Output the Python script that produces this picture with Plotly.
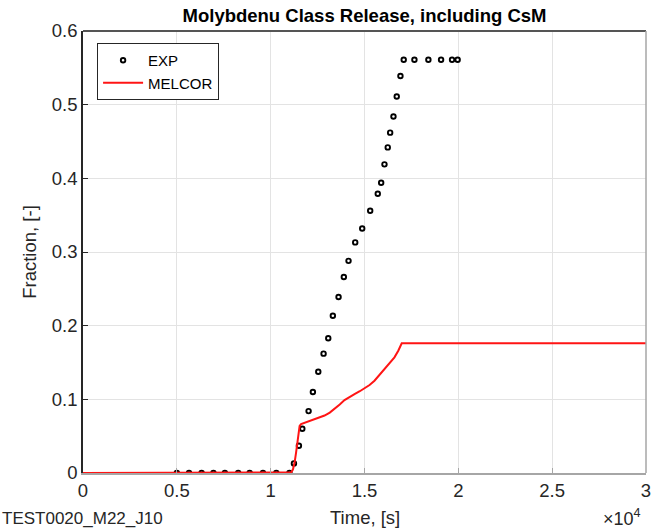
import plotly.graph_objects as go

# EXP data (time s, fraction)
exp_t = [5000, 5650, 6320, 6950, 7560, 8270, 8880, 9590, 10300, 11000,
         11240, 11505, 11686, 12021, 12250, 12537, 12819, 13069, 13314, 13617,
         13899, 14149, 14505, 14878, 15303, 15707, 15888, 16064, 16239, 16367,
         16543, 16718, 16915, 17090, 17660, 18404, 19080, 19665, 19963]
exp_y = [0, 0, 0, 0, 0, 0, 0, 0, 0, 0,
         0.013, 0.037, 0.060, 0.084, 0.110, 0.1375, 0.162, 0.183, 0.2135, 0.239,
         0.266, 0.288, 0.313, 0.332, 0.356, 0.379, 0.394, 0.419, 0.442, 0.462,
         0.484, 0.511, 0.539, 0.561, 0.561, 0.561, 0.561, 0.561, 0.561]

# MELCOR data
mel_t = [0, 5000, 10000, 10800, 11000, 11100, 11190, 11277, 11350, 11420, 11490, 11543,
         11620, 11720, 11900, 12165, 12500, 12872, 13150, 13404, 13680, 13936, 14200,
         14468, 14750, 15000, 15270, 15532, 15800, 16064, 16330, 16596, 16800, 16984,
         20000, 25000, 30000]
mel_y = [0, 0, 0, 0, 0.0003, 0.001, 0.005, 0.0145, 0.027, 0.0417, 0.056, 0.064,
         0.0665, 0.0675, 0.069, 0.071, 0.0745, 0.078, 0.082, 0.0869, 0.093, 0.099, 0.1035,
         0.107, 0.111, 0.115, 0.1195, 0.1253, 0.133, 0.141, 0.149, 0.157, 0.166, 0.176,
         0.176, 0.176, 0.176]

x_tickvals = [0, 5000, 10000, 15000, 20000, 25000, 30000]
x_ticktext = ["0", "0.5", "1", "1.5", "2", "2.5", "3"]
y_tickvals = [0, 0.1, 0.2, 0.3, 0.4, 0.5, 0.6]
y_ticktext = ["0", "0.1", "0.2", "0.3", "0.4", "0.5", "0.6"]

FONT = "Liberation Sans, Arial, Helvetica, sans-serif"
TXT = "#262626"

fig = go.Figure()
fig.add_trace(go.Scatter(
    x=exp_t, y=exp_y, mode="markers", name="EXP",
    marker=dict(symbol="circle-open", size=4.5, color="black", line=dict(width=1.9, color="black")),
))
fig.add_trace(go.Scatter(
    x=mel_t, y=mel_y, mode="lines", name="MELCOR",
    line=dict(color="#ff1414", width=2),
))

fig.update_layout(
    width=666, height=531,
    margin=dict(l=83, r=20, t=31, b=58),
    paper_bgcolor="white", plot_bgcolor="white",
    font=dict(family=FONT, color=TXT, size=15),
    title=dict(text="<b>Molybdenu Class Release, including CsM</b>",
               x=(83 + 646) / 2 / 666, xanchor="center", y=1 - 16 / 531, yanchor="middle",
               font=dict(size=18.5, color="black", family=FONT)),
    showlegend=True,
    legend=dict(x=0.025, y=0.973, xanchor="left", yanchor="top",
                bgcolor="white", bordercolor=TXT, borderwidth=1,
                font=dict(size=15, color="black", family=FONT),
                tracegroupgap=0, itemwidth=40),
)

fig.update_xaxes(
    range=[0, 30000], tickvals=x_tickvals, ticktext=x_ticktext,
    showgrid=True, gridcolor="#e3e3e3", gridwidth=1,
    zeroline=False, showline=True, linecolor="#a6a6a6", linewidth=1.5, mirror=False,
    ticks="inside", ticklen=5, tickcolor="#a6a6a6",
    tickfont=dict(size=18.5, color=TXT), automargin=False,
)
fig.update_yaxes(
    range=[0, 0.6], tickvals=y_tickvals, ticktext=y_ticktext,
    showgrid=True, gridcolor="#e3e3e3", gridwidth=1,
    zeroline=False, showline=True, linecolor=TXT, linewidth=1.5, mirror=False,
    ticks="inside", ticklen=5, tickcolor=TXT,
    tickfont=dict(size=18.5, color=TXT),
    title=dict(text="Fraction, [-]", font=dict(size=18.5, color=TXT), standoff=10),
)

# top (dark) and right (light) frame lines
fig.add_shape(type="line", xref="paper", yref="paper", x0=0, x1=1, y0=1, y1=1,
              line=dict(color="#555555", width=2))
fig.add_shape(type="line", xref="paper", yref="paper", x0=1, x1=1, y0=0, y1=1,
              line=dict(color="#a6a6a6", width=1.5))

fig.add_annotation(text="Time, [s]", xref="paper", yref="paper",
                   x=0.5, y=(473 - 517) / 442, xanchor="center", yanchor="middle", showarrow=False,
                   font=dict(size=18.5, color=TXT, family=FONT))
fig.add_annotation(text="×10<sup>4</sup>", xref="paper", yref="paper",
                   x=0.995, y=(473 - 517) / 442, xanchor="right", yanchor="middle", showarrow=False,
                   font=dict(size=18, color=TXT, family=FONT))
fig.add_annotation(text="TEST0020_M22_J10", xref="paper", yref="paper",
                   x=-83 / 563, y=(473 - 518) / 442, xanchor="left", yanchor="middle", showarrow=False,
                   font=dict(size=17, color=TXT, family=FONT))

fig.write_html("out.html")
